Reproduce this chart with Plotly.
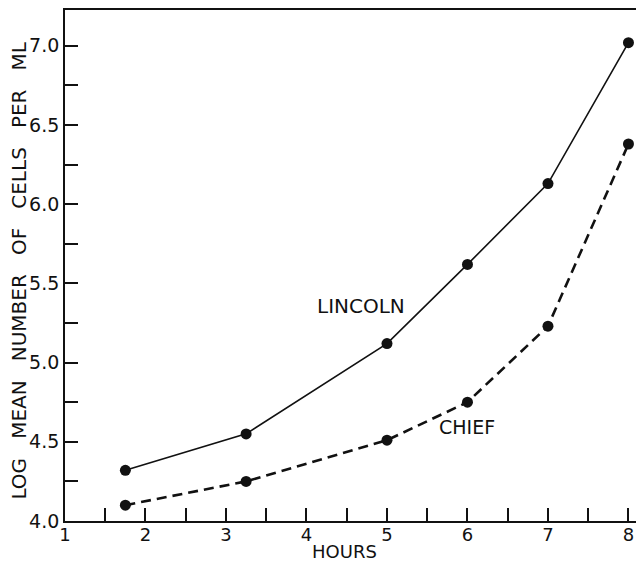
import plotly.graph_objects as go

hours = [1.75, 3.25, 5.0, 6.0, 7.0, 8.0]
lincoln = [4.32, 4.55, 5.12, 5.62, 6.13, 7.02]
chief = [4.10, 4.25, 4.51, 4.75, 5.23, 6.38]

x_tickvals = [1, 1.5, 2, 2.5, 3, 3.5, 4, 4.5, 5, 5.5, 6, 6.5, 7, 7.5, 8]
x_ticktext = ["1", "", "2", "", "3", "", "4", "", "5", "", "6", "", "7", "", "8"]
y_tickvals = [4.0, 4.25, 4.5, 4.75, 5.0, 5.25, 5.5, 5.75, 6.0, 6.25, 6.5, 6.75, 7.0]
y_ticktext = ["4.0", "", "4.5", "", "5.0", "", "5.5", "", "6.0", "", "6.5", "", "7.0"]

FONT = "DejaVu Sans"
INK = "#111111"
NB = "\u00a0\u00a0"
y_title = NB.join(["LOG", "MEAN", "NUMBER", "OF", "CELLS", "PER", "ML"]).replace(NB, " " + NB)

fig = go.Figure()
fig.add_trace(go.Scatter(
    x=hours, y=lincoln, mode="lines+markers", name="LINCOLN",
    line=dict(color=INK, width=1.6),
    marker=dict(color=INK, size=11),
))
fig.add_trace(go.Scatter(
    x=hours, y=chief, mode="lines+markers", name="CHIEF",
    line=dict(color=INK, width=2.6, dash="10px,6px"),
    marker=dict(color=INK, size=11),
))

# the page body adds an 8px offset, so the figure is sized to fit the window
fig.update_layout(
    width=636, height=555,
    margin=dict(l=57, r=0, t=0, b=42),
    paper_bgcolor="white", plot_bgcolor="white",
    showlegend=False,
    font=dict(family=FONT, color=INK, size=19),
    xaxis=dict(
        range=[1, 8.193], tickvals=x_tickvals, ticktext=x_ticktext,
        ticks="inside", ticklen=13, tickwidth=1.5, tickcolor=INK,
        showline=True, linecolor=INK, linewidth=1.8, mirror=True,
        showgrid=False, zeroline=False, ticklabelstandoff=-4,
        tickfont=dict(family=FONT, size=18, color=INK),
    ),
    yaxis=dict(
        range=[4.0, 7.226], tickvals=y_tickvals, ticktext=y_ticktext,
        ticks="inside", ticklen=13, tickwidth=1.5, tickcolor=INK,
        showline=True, linecolor=INK, linewidth=1.8,
        showgrid=False, zeroline=False,
        tickfont=dict(family=FONT, size=19, color=INK),
    ),
    annotations=[
        dict(text=y_title, xref="paper", yref="paper", x=0, y=0.49,
             xshift=-46, xanchor="center", yanchor="middle", textangle=-90,
             showarrow=False, font=dict(family=FONT, size=20, color=INK)),
        dict(text="HOURS", xref="x", yref="paper", x=4.466, y=0, yshift=-30,
             xanchor="center", yanchor="middle", showarrow=False,
             font=dict(family=FONT, size=18, color=INK)),
        dict(text="LINCOLN", xref="x", yref="y", x=4.68, y=5.36,
             xanchor="center", yanchor="middle", showarrow=False,
             font=dict(family=FONT, size=20, color=INK)),
        dict(text="CHIEF", xref="x", yref="y", x=6.0, y=4.593,
             xanchor="center", yanchor="middle", showarrow=False,
             font=dict(family=FONT, size=19, color=INK)),
    ],
)

fig.write_html("out.html")
